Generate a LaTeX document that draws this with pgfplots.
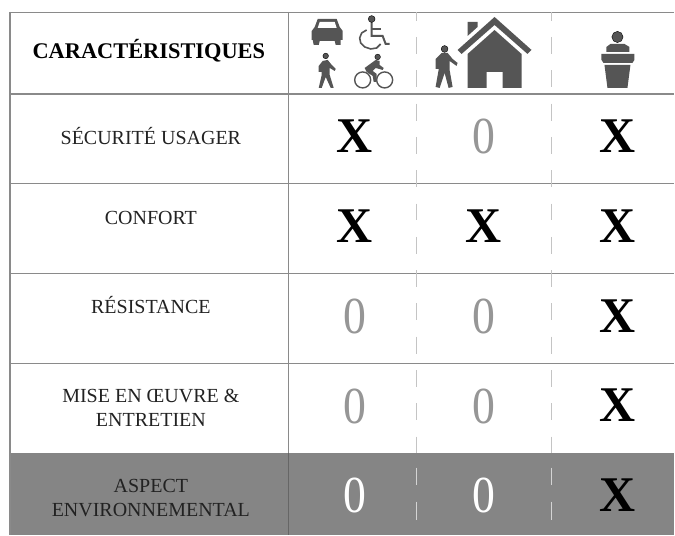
\documentclass[border=0pt]{standalone}
\usepackage{pgfplots}
\pgfplotsset{compat=1.18}
\usepackage{fontspec}
\setmainfont{Liberation Serif}
\definecolor{ic}{HTML}{555555}
\definecolor{gl}{HTML}{858585}
\definecolor{ln}{HTML}{8A8A8A}
\definecolor{dl}{HTML}{C4C4C4}
\definecolor{tx}{HTML}{222222}
\newcommand{\sz}[1]{\fontsize{#1}{#1}\selectfont}
\begin{document}
\begin{tikzpicture}
\begin{axis}[
  scale only axis, width=675pt, height=535pt,
  xmin=0, xmax=675, ymin=0, ymax=535, y dir=reverse,
  axis lines=none, clip=false,
  every axis plot/.append style={forget plot},
]
% page
\addplot[fill=white,draw=none] coordinates {(0,0)(675,0)(675,535)(0,535)} --cycle;
% bottom row
\addplot[fill=gl,draw=none] coordinates {(10,453)(675,453)(675,535)(10,535)} --cycle;
% rules
\addplot[ln,line width=1.1pt] coordinates {(10,12.5)(675,12.5)};
\addplot[ln,line width=1.2pt] coordinates {(10,94)(675,94)};
\addplot[ln,line width=1.2pt] coordinates {(10,184)(675,184)};
\addplot[ln,line width=1.2pt] coordinates {(10,273.5)(675,273.5)};
\addplot[ln,line width=1.2pt] coordinates {(10,364)(675,364)};
\addplot[ln,line width=1.1pt] coordinates {(10,12)(10,535)};
\addplot[ln,line width=1.2pt] coordinates {(289,12)(289,453)};
\addplot[black!60,line width=0.8pt] coordinates {(289,453)(289,535)};
% dashed separators
\addplot[dl,line width=1pt,dash pattern=on 17pt off 16.33pt,dash phase=8.3pt] coordinates {(417,12)(417,453)};
\addplot[dl,line width=1pt,dash pattern=on 17pt off 16.33pt,dash phase=8.3pt] coordinates {(552,12)(552,453)};
\addplot[white!65!gl,line width=1pt] coordinates {(417,468)(417,485)};
\addplot[white!65!gl,line width=1pt] coordinates {(417,502)(417,520)};
\addplot[white!65!gl,line width=1pt] coordinates {(552,468)(552,485)};
\addplot[white!65!gl,line width=1pt] coordinates {(552,502)(552,520)};
% row labels
\node[font=\sz{22.4}\bfseries,text=black] at (axis cs:149,51) {CARACTÉRISTIQUES};
\node[font=\sz{20},text=tx] at (axis cs:151,136) {SÉCURITÉ USAGER};
\node[font=\sz{20},text=tx] at (axis cs:151,218) {CONFORT};
\node[font=\sz{20},text=tx] at (axis cs:151,305) {RÉSISTANCE};
\node[font=\sz{20},text=tx] at (axis cs:151,396) {MISE EN ŒUVRE \&};
\node[font=\sz{20},text=tx] at (axis cs:151,420) {ENTRETIEN};
\node[font=\sz{20},text=tx] at (axis cs:151,486) {ASPECT};
\node[font=\sz{20},text=tx] at (axis cs:151,510) {ENVIRONNEMENTAL};
% values
\addplot[only marks, mark=none, point meta=explicit symbolic,
  nodes near coords, every node near coord/.style={anchor=center,font=\sz{50}\bfseries,text=black}]
  table[meta=m] {
x y m
355 136 X
355 226 X
484 226 X
618 136 X
618 226 X
618 316 X
618 406 X
618 496 X
};
\addplot[only marks, mark=none, point meta=explicit symbolic,
  nodes near coords, every node near coord/.style={anchor=center,font=\sz{52},text=ln!90!white,xscale=.88,transform shape}]
  table[meta=m] {
x y m
484 137 0
355 317 0
484 317 0
355 407 0
484 407 0
};
\addplot[only marks, mark=none, point meta=explicit symbolic,
  nodes near coords, every node near coord/.style={anchor=center,font=\sz{52},text=white,xscale=.88,transform shape}]
  table[meta=m] {
x y m
355 496 0
484 496 0
};
% car
\addplot[fill=ic,draw=none] coordinates {(318,19)(337,19)(340,27)(343,31)(343,40)(341,40)(341,45)(336,45)(335,41)(320,41)(319,45)(314,45)(313,40)(312,40)(312,31)(315,27)} --cycle;
\addplot[fill=white,draw=none] coordinates {(320,22)(335,22)(337,28)(318,28)} --cycle;
% wheelchair
\addplot[only marks,mark=*,mark size=3.4pt,mark options={draw=none,fill=ic}] coordinates {(372,19)};
\addplot[ic,line width=2pt] coordinates {(372,22)(372,36)(383,36)(386,44)(390,44)};
\addplot[ic,line width=1.6pt] coordinates {(372,29)(381,29)};
\addplot[ic,line width=1.6pt] coordinates {(367,30)(362,33)(360,38)(361,43)(365,47)(371,49)(377,48)(381,44)};
% walker small
\addplot[only marks,mark=*,mark size=2.8pt,mark options={draw=none,fill=ic}] coordinates {(326,56)};
\addplot[fill=ic,draw=none] coordinates {(323,61)(328,60)(332,65)(336,69)(335,71)(330,68)(330,75)(334,88)(331,88)(326,77)(322,88)(319,88)(322,75)(322,72)(319,72)(319,66)} --cycle;
% bike
\addplot[only marks,mark=*,mark size=2.8pt,mark options={draw=none,fill=ic}] coordinates {(378,57)};
\addplot[only marks,mark=o,mark size=8pt,mark options={draw=ic,line width=1.4pt,fill=none}] coordinates {(363,80)(385,80)};
\addplot[fill=ic,draw=none] coordinates {(376,60)(380,61)(380,65)(384,68)(383,70)(376,68)(373,71)(377,74)(377,82)(374,82)(373,76)(367,72)(365,68)} --cycle;
% walker big
\addplot[only marks,mark=*,mark size=3.4pt,mark options={draw=none,fill=ic}] coordinates {(445,49)};
\addplot[fill=ic,draw=none] coordinates {(442,53)(448,53)(453,59)(458,63)(457,66)(450,61)(450,70)(453,87)(449,88)(445,73)(440,88)(436,87)(439,70)(439,69)(436,69)(436,59)} --cycle;
% house
\addplot[fill=ic,draw=none] coordinates {(468,22)(478,22)(478,27)(468,36)} --cycle;
\addplot[fill=ic,draw=none] coordinates {(495,17)(532,50)(528,54)(495,25)(462,54)(458,50)} --cycle;
\addplot[fill=ic,draw=none] coordinates {(495,30)(522,54)(522,88)(503,88)(503,72)(487,72)(487,88)(468,88)(468,54)} --cycle;
% speaker
\addplot[only marks,mark=*,mark size=5.6pt,mark options={draw=none,fill=ic}] coordinates {(618,37)};
\addplot[fill=ic,draw=none] coordinates {(611,44)(625,44)(630,47)(630,52)(607,52)(607,47)} --cycle;
\addplot[fill=ic,draw=none] coordinates {(602,54)(635,54)(635,60)(633,63)(604,63)(602,60)} --cycle;
\addplot[fill=ic,draw=none] coordinates {(605,65)(631,65)(628,88)(608,88)} --cycle;
\end{axis}
\end{tikzpicture}
\end{document}
